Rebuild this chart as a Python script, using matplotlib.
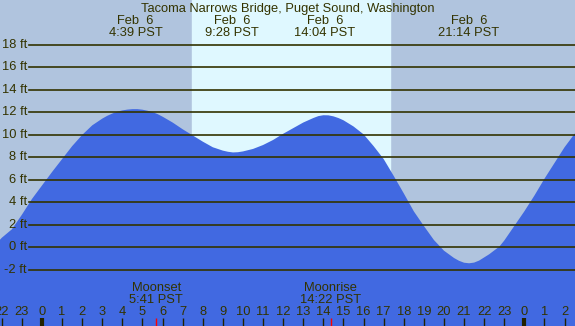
import matplotlib
matplotlib.use("Agg")
import matplotlib.pyplot as plt

# tide heights (ft), hours from midnight Feb 6 (PST)
hours = [-2.5, -2.0, -1.5, -1.0, -0.5, 0.0, 0.5, 1.0, 1.5, 2.0, 2.5, 3.0, 3.25, 3.5,
         3.75, 4.0, 4.25, 4.5, 4.75, 5.0, 5.25, 5.5, 5.75, 6.0, 6.5, 7.0, 7.5,
         8.0, 8.5, 9.0, 9.25, 9.5, 9.75, 10.0, 10.5, 11.0, 11.5, 12.0, 12.5,
         13.0, 13.5, 13.75, 14.0, 14.25, 14.5, 14.75, 15.0, 15.5, 16.0, 16.5,
         17.0, 17.5, 18.0, 18.5, 19.0, 19.5, 20.0, 20.5, 20.75, 21.0, 21.25,
         21.5, 21.75, 22.0, 22.25, 22.5, 22.75, 23.0, 23.5, 24.0, 24.5, 25.0,
         25.5, 26.0, 26.5, 27.0]
heights = [-0.1, 0.85, 1.6, 2.9, 4.3, 5.5, 6.7, 7.85, 9.0, 10.0, 10.85, 11.45, 11.7, 11.9,
           12.07, 12.18, 12.25, 12.29, 12.29, 12.24, 12.15, 12.03, 11.85, 11.62, 11.1, 10.5, 9.95,
           9.4, 8.9, 8.6, 8.5, 8.44, 8.46, 8.53, 8.75, 9.1, 9.55, 10.1, 10.6,
           11.1, 11.5, 11.67, 11.75, 11.74, 11.65, 11.5, 11.3, 10.75, 10.05, 9.0,
           7.85, 6.35, 4.8, 3.2, 1.9, 0.65, -0.3, -0.95, -1.2, -1.37, -1.42,
           -1.36, -1.18, -0.9, -0.62, -0.28, 0.05, 0.6, 1.9, 3.2, 4.6, 6.1,
           7.5, 8.9, 10.1, 11.1]

# high / low labels at top
tide_times = [4 + 39/60, 9 + 28/60, 14 + 4/60, 21 + 14/60]
tide_labels = ["Feb  6\n4:39 PST", "Feb  6\n9:28 PST", "Feb  6\n14:04 PST", "Feb  6\n21:14 PST"]

moon_times = [5 + 41/60, 14 + 22/60]
moon_labels = ["Moonset\n5:41 PST", "Moonrise\n14:22 PST"]

sunrise = 7 + 28/60
sunset = 17 + 19/60

levels = [-2, 0, 2, 4, 6, 8, 10, 12, 14, 16, 18]
tick_hours = list(range(-2, 27))

title = "Tacoma Narrows Bridge, Puget Sound, Washington"

txt = "#333300"
fs = 9.3
plt.rcParams['font.family'] = ['Liberation Sans', 'DejaVu Sans']

fig = plt.figure(figsize=(5.75, 3.26), dpi=100)
ax = fig.add_axes([0, 0, 1, 1])
ax.set_xlim(-2.09, 26.52)
ax.set_ylim(-7, 22)
ax.axis('off')

ax.axvspan(-5, 30, color='#B0C4DE', zorder=0)
ax.axvspan(sunrise, sunset, color='#DFF8FF', zorder=1)

ax.fill_between(hours, heights, -7, color='#4169E1', lw=0, zorder=2)

for lv in levels:
    ax.axhline(lv, xmin=29/575, xmax=1, color=txt, lw=1.2, zorder=3)
    ax.text(-2.09 + 27/20.1, lv, f"{lv} ft", ha='right', va='center',
            fontsize=fs, color=txt, zorder=4)

xt = ax.get_xaxis_transform()
ax.text(0.5, 0.973, title, transform=ax.transAxes, ha='center', va='center',
        fontsize=fs, color=txt)
for t, lab in zip(tide_times, tide_labels):
    ax.text(t, 0.917, lab, transform=xt, ha='center', va='center',
            fontsize=fs, color=txt, linespacing=0.95)
for t, lab in zip(moon_times, moon_labels):
    ax.text(t, 0.098, lab, transform=xt, ha='center', va='center',
            fontsize=fs, color=txt, linespacing=0.95, zorder=4)
    ax.vlines(t, 0, 0.025, transform=xt, color='red', lw=1, zorder=4)

for h in tick_hours:
    ax.text(h, 0.043, str(h % 24), transform=xt, ha='center', va='center',
            fontsize=fs, color=txt, zorder=4)
    if h % 24 == 0:
        ax.vlines(h, 0, 0.025, transform=xt, color='#222200', lw=3, zorder=4)
    else:
        ax.vlines(h, 0, 0.025, transform=xt, color='#222200', lw=1, zorder=4)

fig.savefig("out.png", dpi=100)
